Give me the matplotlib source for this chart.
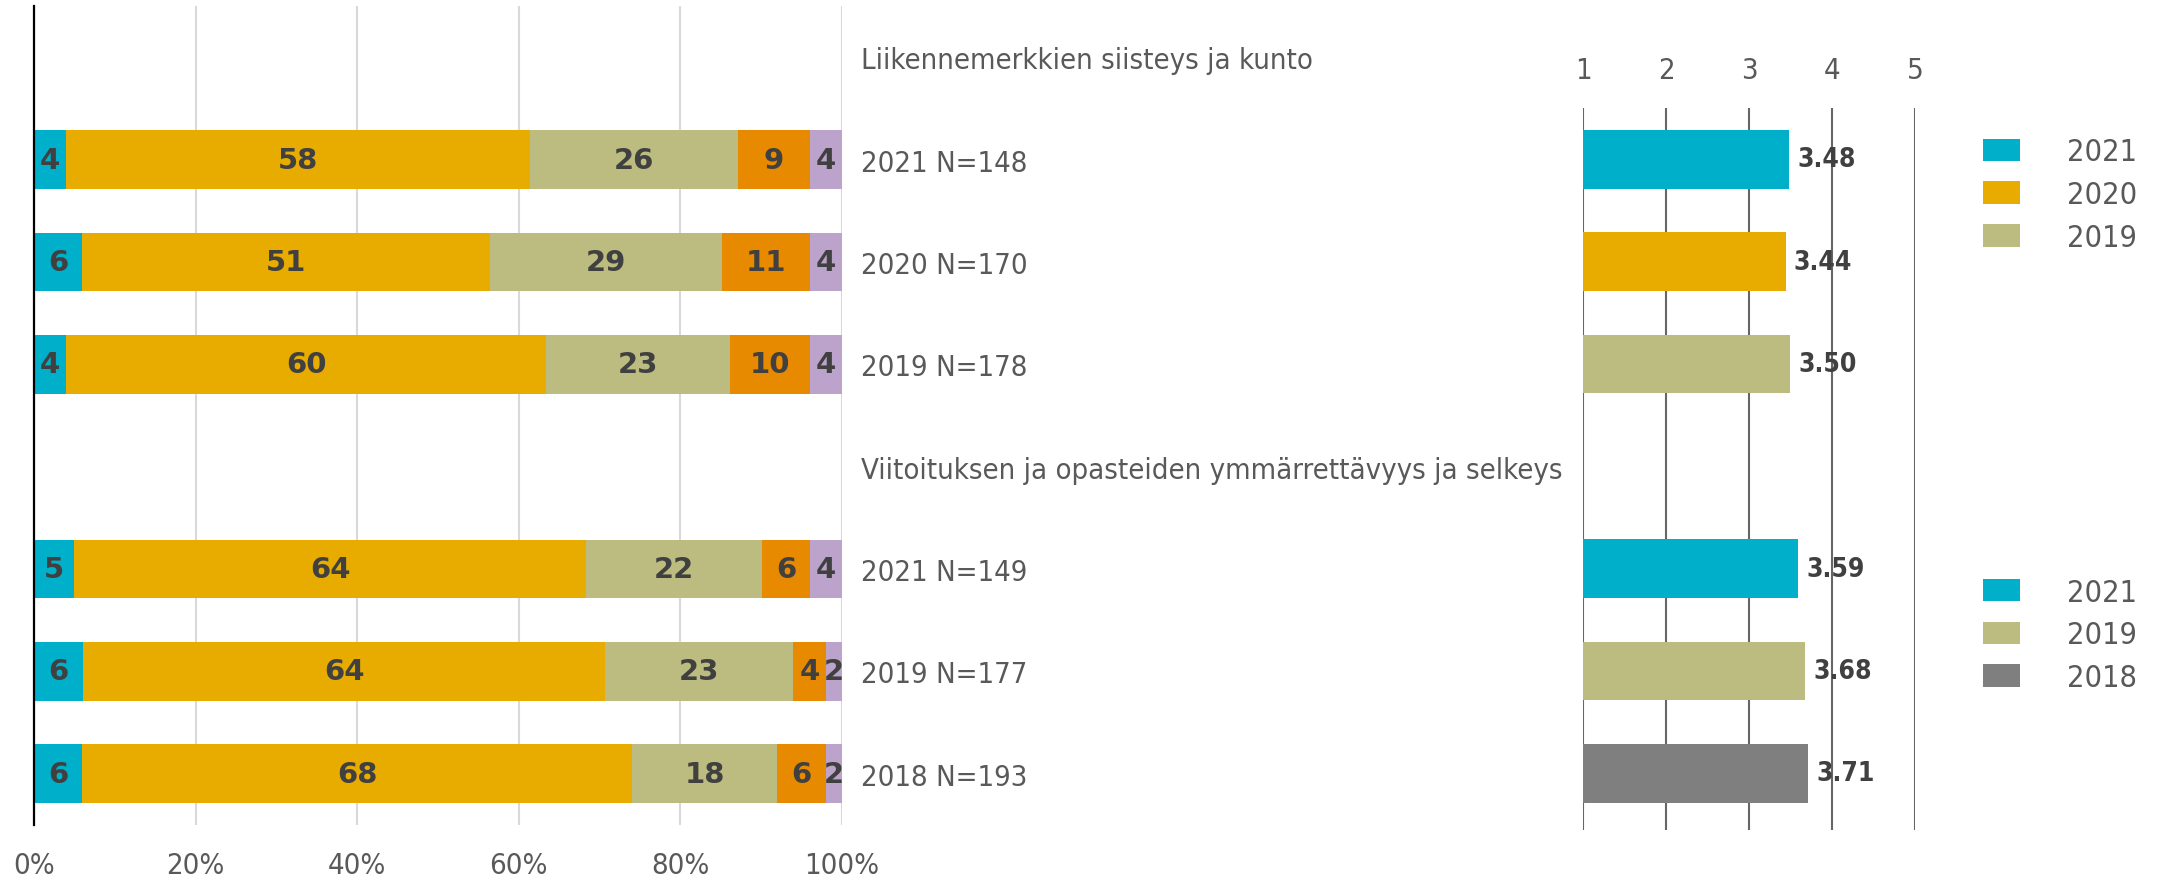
import matplotlib
matplotlib.use('Agg')
import matplotlib.pyplot as plt
import numpy as np
from matplotlib.patches import Patch

plt.rcParams['font.family'] = ['DejaVu Sans']
plt.rcParams['font.stretch'] = 'condensed'

# ---------------- data ----------------
row_labels = ['Liikennemerkkien siisteys ja kunto', '2021 N=148', '2020 N=170', '2019 N=178',
              'Viitoituksen ja opasteiden ymmärrettävyys ja selkeys', '2021 N=149', '2019 N=177', '2018 N=193']
seg_a = [0, 4, 6, 4, 0, 5, 6, 6]
seg_b = [0, 58, 51, 60, 0, 64, 64, 68]
seg_c = [0, 26, 29, 23, 0, 22, 23, 18]
seg_d = [0, 9, 11, 10, 0, 6, 4, 6]
seg_e = [0, 4, 4, 4, 0, 4, 2, 2]
pct_ticks = [0, 20, 40, 60, 80, 100]
pct_tick_labels = ['0%', '20%', '40%', '60%', '80%', '100%']

mean_rows = [1, 2, 3, 5, 6, 7]
mean_years = ['2021', '2020', '2019', '2021', '2019', '2018']
mean_values = [3.48, 3.44, 3.50, 3.59, 3.68, 3.71]
scale_ticks = [1, 2, 3, 4, 5]
legend1_years = ['2021', '2020', '2019']
legend2_years = ['2021', '2019', '2018']

# ---------------- style ----------------
seg_colors = ['#00AFC9', '#E8AC00', '#BDBC80', '#E88A00', '#BCA3CC']
year_colors = {'2021': '#00AFC9', '2020': '#E8AC00', '2019': '#BDBC80', '2018': '#7F7F7F'}
label_color = '#404040'
tick_color = '#595959'

W, H = 2164, 878
fig = plt.figure(figsize=(W / 100, H / 100), dpi=100)

def frac(x0, y0, x1, y1):
    return [x0 / W, 1 - y1 / H, (x1 - x0) / W, (y1 - y0) / H]

# ---------------- left stacked chart ----------------
ax = fig.add_axes(frac(34, 7, 842, 826))
segs = np.array([seg_a, seg_b, seg_c, seg_d, seg_e], dtype=float)
totals = segs.sum(axis=0)
norm = np.divide(segs * 100, totals, out=np.zeros_like(segs), where=totals > 0)
rows = np.arange(len(row_labels))
left = np.zeros(len(row_labels))
for i in range(segs.shape[0]):
    cont = ax.barh(rows, norm[i], left=left, height=0.575, color=seg_colors[i], zorder=3)
    labels = [str(int(v)) if v > 0 else '' for v in segs[i]]
    ax.bar_label(cont, labels=labels, label_type='center', fontsize=21, fontweight='bold',
                 fontstretch='normal', color=label_color, zorder=4)
    left += norm[i]

ax.set_xlim(0, 100)
ax.set_ylim(len(row_labels) - 0.5, -0.5)
ax.set_xticks(pct_ticks)
ax.set_xticklabels(pct_tick_labels, fontsize=21, color=tick_color)
ax.tick_params(axis='x', length=0, pad=19)
ax.set_yticks(rows)
ax.set_yticklabels(row_labels, fontsize=21, color=tick_color)
ax.yaxis.tick_right()
ax.tick_params(axis='y', length=0, pad=13.5)
for lab in ax.get_yticklabels():
    lab.set_horizontalalignment('left')
ax.grid(axis='x', color='#D9D9D9', linewidth=1.5, zorder=0)
for s in ['top', 'right', 'bottom']:
    ax.spines[s].set_visible(False)
ax.spines['left'].set_color('#000000')
ax.spines['left'].set_linewidth(1.6)
ax.spines['left'].set_zorder(5)

# ---------------- right mean chart ----------------
axr = fig.add_axes(frac(1583, 109, 1915, 831))
for r, yr, v in zip(mean_rows, mean_years, mean_values):
    axr.barh(r, v - 1, left=1, height=0.575, color=year_colors[yr], zorder=2)
    axr.text(v + 0.1, r, f'{v:.2f}', va='center', ha='left', fontsize=19, fontweight='bold',
             color=label_color, zorder=4, clip_on=False)
axr.set_xlim(1, 5)
axr.set_ylim(7.555, 0.497)
axr.set_xticks(scale_ticks)
axr.set_xticklabels([str(t) for t in scale_ticks], fontsize=21, color=tick_color)
axr.xaxis.tick_top()
axr.tick_params(axis='x', length=0, pad=17)
axr.set_yticks([])
axr.grid(axis='x', color='#666666', linewidth=1.5, zorder=3)
for s in axr.spines.values():
    s.set_visible(False)

# ---------------- legends ----------------
F = 22
def make_legend(years, ycenter):
    handles = [Patch(facecolor=year_colors[y], edgecolor='none') for y in years]
    leg = fig.legend(handles, years, loc='center left',
                     bbox_to_anchor=(1983 / W, 1 - ycenter / H), frameon=False,
                     fontsize=F, handlelength=37 / (F * 1.389), handleheight=23 / (F * 1.389),
                     handletextpad=47 / (F * 1.389), labelspacing=0.45, borderpad=0,
                     borderaxespad=0, labelcolor=tick_color)
    return leg

make_legend(legend1_years, 195.7)
make_legend(legend2_years, 636)

fig.savefig('out.png', dpi=100)
